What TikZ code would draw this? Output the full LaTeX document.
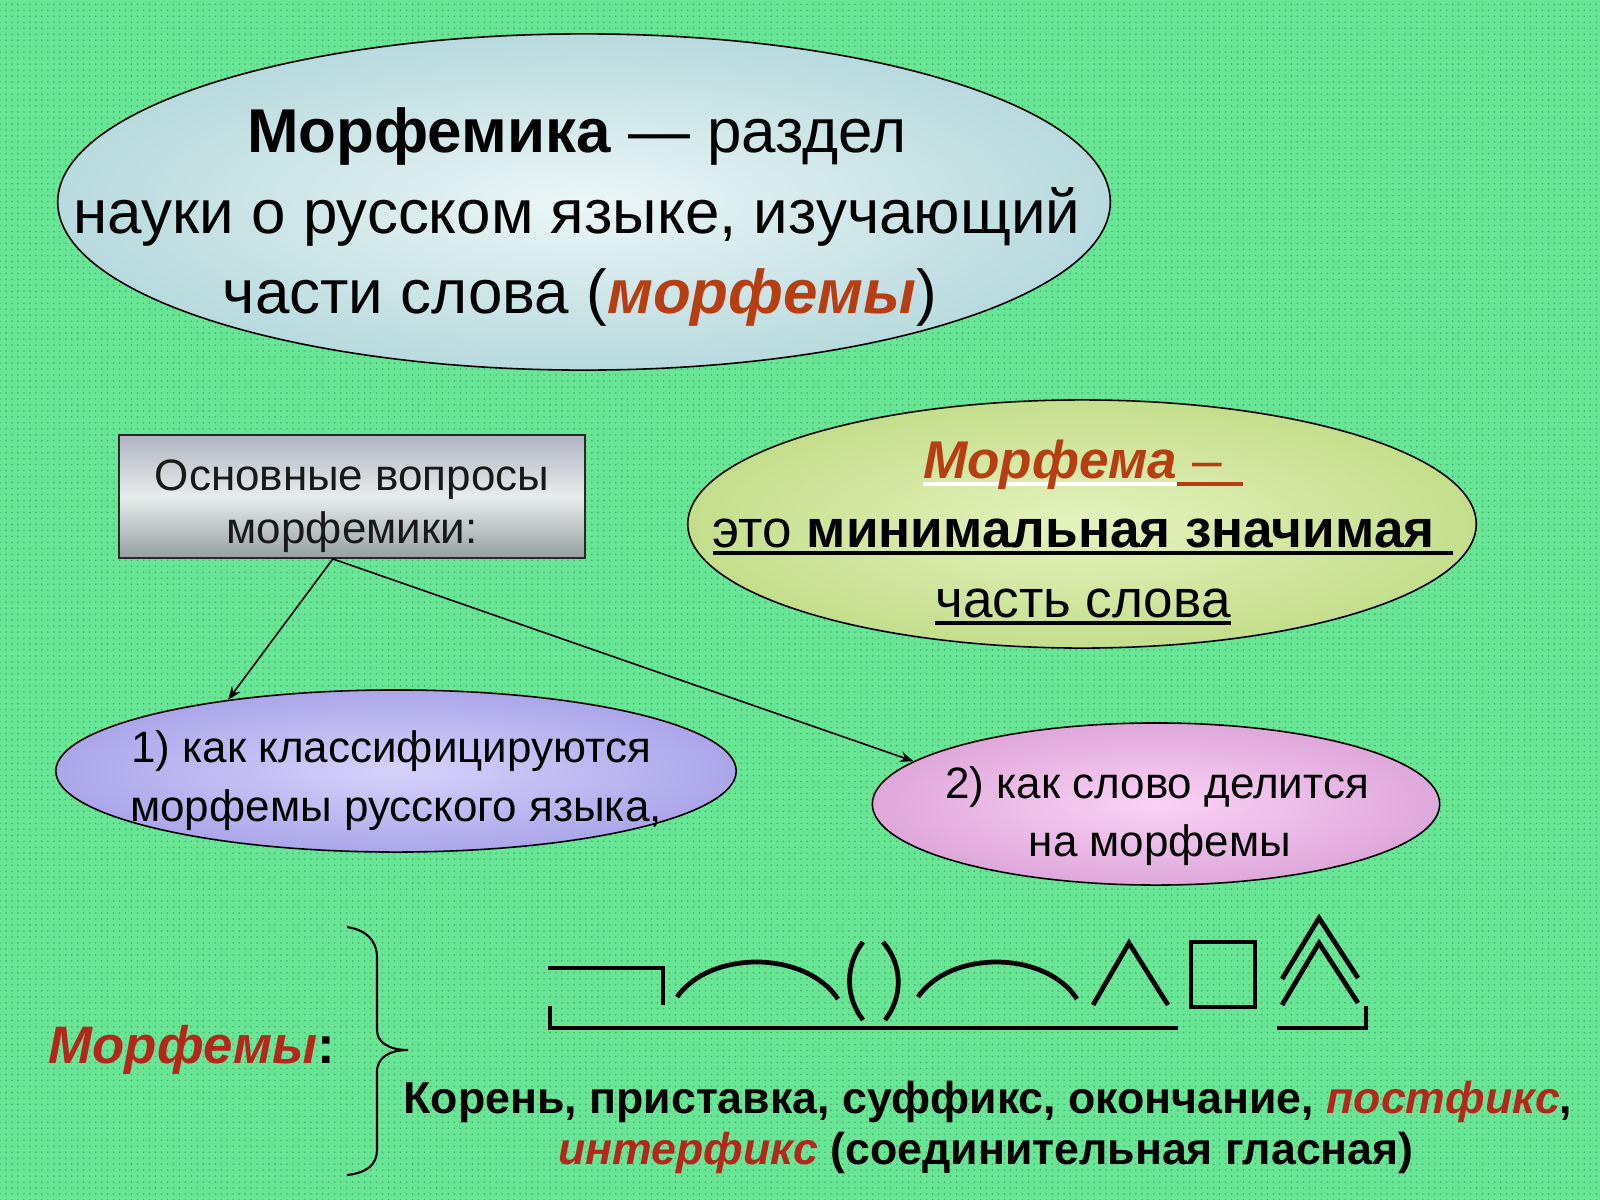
\documentclass[tikz,border=0pt]{standalone}
\usepackage{fontspec}
\setmainfont{Liberation Sans}
\usetikzlibrary{shapes.geometric,arrows.meta,patterns.meta,calc}
\definecolor{bgg}{RGB}{104,230,150}
\definecolor{bgdot}{RGB}{70,180,110}
\definecolor{tred}{RGB}{182,62,18}
\definecolor{bred}{RGB}{180,40,28}
\definecolor{ell1in}{RGB}{236,246,246}
\definecolor{ell1out}{RGB}{184,218,222}
\definecolor{ell2in}{RGB}{230,243,190}
\definecolor{ell2out}{RGB}{196,222,140}
\definecolor{ell3in}{RGB}{214,210,250}
\definecolor{ell3out}{RGB}{172,166,234}
\definecolor{ell4in}{RGB}{250,210,246}
\definecolor{ell4out}{RGB}{222,168,218}
\definecolor{rtop}{RGB}{176,180,192}
\definecolor{rmid}{RGB}{232,236,236}
\definecolor{rbot}{RGB}{150,160,160}
\newcommand\ulx[1]{\setbox0=\hbox{#1}\rlap{\rule[-0.15em]{\wd0}{0.07em}}\box0}
\begin{document}
\begin{tikzpicture}[x=0.01cm,y=-0.01cm,
  bub/.style={ellipse, draw=black, line width=0.45pt, inner sep=0pt},
  lbl/.style={anchor=base, inner sep=0pt},
  arr/.style={-{Stealth[length=3.8pt,width=3pt]}, line width=0.45pt},
  sym/.style={line width=1.35pt, line join=miter},
  ft/.style={font=\fontsize{17.6pt}{21pt}\selectfont},
  fs/.style={font=\fontsize{12.5pt}{15pt}\selectfont},
  fy/.style={font=\fontsize{15.1pt}{18pt}\selectfont},
  fb/.style={font=\fontsize{12.7pt}{15pt}\selectfont\bfseries}]
\fill[bgg] (0,0) rectangle (1600,1200);
\fill[pattern={Dots[distance=1.7pt,radius=0.26pt]},pattern color=bgdot] (0,0) rectangle (1600,1200);
\useasboundingbox (0,0) rectangle (1600,1200);

% top ellipse
\node[bub, minimum width=10.52cm, minimum height=3.36cm, inner color=ell1in, outer color=ell1out] (top) at (584,202) {};
\node[lbl, ft] (t1) at (577,152) {\textbf{Морфемика} — раздел};
\node[lbl, ft] (t2) at (577,233) {науки о русском языке, изучающий};
\node[lbl, ft] (t3) at (580,313) {части слова (\textcolor{tred}{\textbf{\textit{морфемы}}})};

% questions box
\node[draw={rgb,255:red,40;green,40;blue,40}, line width=0.5pt, rectangle, minimum width=4.66cm, minimum height=1.23cm, inner sep=0pt,
  top color=rtop, bottom color=rbot, middle color=rmid] (q) at (352,496.5) {};
\node[lbl, fs, text={rgb,255:red,25;green,25;blue,25}] (q1) at (352,490) {Основные вопросы};
\node[lbl, fs, text={rgb,255:red,25;green,25;blue,25}] (q2) at (352,543) {морфемики:};

% definition ellipse
\node[bub, minimum width=7.88cm, minimum height=2.48cm, inner color=ell2in, outer color=ell2out] (def) at (1082,524) {};
\node[lbl, fy] (d1) at (1083,478) {\ulx{\color{tred}\bfseries\itshape Морфема}\ulx{ –\hspace{0.4em}}};
\node[lbl, fy] (d2) at (1083,547) {\ulx{это \textbf{минимальная значимая}\hspace{0.35em}}};
\node[lbl, fy] (d3) at (1083,617) {\ulx{часть слова}};

% question ellipses
\node[bub, minimum width=6.80cm, minimum height=1.62cm, inner color=ell3in, outer color=ell3out] (e1) at (396,771) {};
\node[lbl, fs] (e1a) at (391,762) {1) как классифицируются};
\node[lbl, fs] (e1b) at (396,821) {морфемы русского языка,};

\node[bub, minimum width=5.67cm, minimum height=1.62cm, inner color=ell4in, outer color=ell4out] (e2) at (1156,804) {};
\node[lbl, fs] (e2a) at (1157,798) {2) как слово делится};
\node[lbl, fs] (e2b) at (1160,856) {на морфемы};

% arrows
\coordinate (qs) at ($(q.south west)!0.459!(q.south east)$);
\draw[arr] (qs) -- (e1.157);
\draw[arr] (qs) -- (e2.170);

% morphemes label and brace
\node[anchor=base west, inner sep=0pt, font=\fontsize{15pt}{17pt}\selectfont\bfseries] (mm) at (48,1063) {\textcolor{bred}{\textit{Морфемы}}:};
\draw[line width=0.6pt] (347,927) .. controls (366,930) and (377,940) .. (377,958) -- (377,1030)
  .. controls (377,1043) and (390,1050) .. (408,1050)
  .. controls (390,1050) and (377,1057) .. (377,1072) -- (377,1150)
  .. controls (377,1165) and (366,1173) .. (347,1175);

% morpheme signs
\draw[sym] (548,968) -- (663,968) -- (663,1005);
\draw[sym] (677,997) .. controls (710,950) and (805,950) .. (838,999);
\draw[sym] (863,942) .. controls (845,965) and (845,997) .. (863,1020);
\draw[sym] (883,942) .. controls (903,965) and (903,997) .. (885,1020);
\draw[sym] (918,997) .. controls (950,950) and (1045,950) .. (1077,999);
\draw[sym] (1093,1005) -- (1129,943) -- (1168,1005);
\draw[sym] (1191,942) rectangle (1255,1007);
\draw[sym] (1282,979) -- (1319,918) -- (1358,978);
\draw[sym] (1282,1005) -- (1319,943) -- (1358,1003);
\draw[sym] (550,1006) -- (550,1028) -- (1178,1028);
\draw[sym] (1277,1028) -- (1366,1028) -- (1366,1006);

% bottom text
\node[lbl, fb] (b1) at (988,1113) {Корень, приставка, суффикс, окончание, \textcolor{bred}{\textit{постфикс}},};
\node[lbl, fb] (b2) at (986,1164) {\textcolor{bred}{\textit{интерфикс}} (соединительная гласная)};
\end{tikzpicture}
\end{document}
